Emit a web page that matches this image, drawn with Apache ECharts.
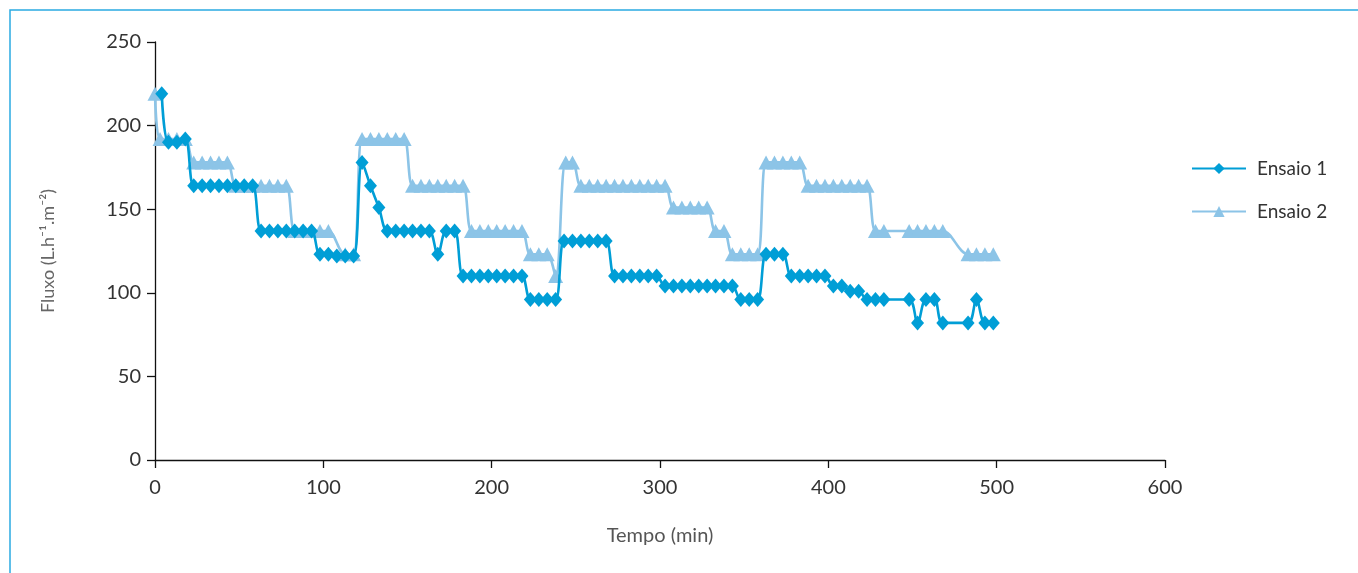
<!DOCTYPE html>
<html>
<head>
<meta charset="utf-8">
<script src="https://cdn.jsdelivr.net/npm/echarts@6/dist/echarts.min.js"></script>
<style>
  html, body { margin: 0; padding: 0; background: #fff; }
  #chart { width: 1358px; height: 573px; }
</style>
</head>
<body>
<div id="chart"></div>
<script>
// Ensaio 1 (diamantes)
var tempo1 = [4, 8, 13, 18, 23, 28, 33, 38, 43, 48, 53, 58, 63, 68, 73, 78, 83, 88, 93, 98,
  103, 108, 113, 118, 123, 128, 133, 138, 143, 148, 153, 158, 163, 168, 173, 178,
  183, 188, 193, 198, 203, 208, 213, 218, 223, 228, 233, 238, 243, 248, 253, 258,
  263, 268, 273, 278, 283, 288, 293, 298, 303, 308, 313, 318, 323, 328, 333, 338,
  343, 348, 353, 358, 363, 368, 373, 378, 383, 388, 393, 398, 403, 408, 413, 418,
  423, 428, 433, 448, 453, 458, 463, 468, 483, 488, 493, 498]
var ensaio1 = [219, 190, 190, 192, 164, 164, 164, 164, 164, 164, 164, 164, 137, 137, 137, 137, 137, 137, 137, 123,
  123, 122, 122, 122, 178, 164, 151, 137, 137, 137, 137, 137, 137, 123, 137, 137,
  110, 110, 110, 110, 110, 110, 110, 110, 96, 96, 96, 96, 131, 131, 131, 131,
  131, 131, 110, 110, 110, 110, 110, 110, 104, 104, 104, 104, 104, 104, 104, 104,
  104, 96, 96, 96, 123, 123, 123, 110, 110, 110, 110, 110, 104, 104, 101, 101,
  96, 96, 96, 96, 82, 96, 96, 82, 82, 96, 82, 82]

// Ensaio 2 (triângulos)
var tempo2 = [0, 3, 8, 13, 18, 23, 28, 33, 38, 43, 48, 53, 58, 63, 68, 73, 78, 83, 88, 93,
  98, 103, 113, 118, 123, 128, 133, 138, 143, 148, 153, 158, 163, 168, 173, 178,
  183, 188, 193, 198, 203, 208, 213, 218, 223, 228, 233, 238, 244, 248, 253, 258,
  263, 268, 273, 278, 283, 288, 293, 298, 303, 308, 313, 318, 323, 328, 333, 338,
  343, 348, 353, 358, 363, 368, 373, 378, 383, 388, 393, 398, 403, 408, 413, 418,
  423, 428, 433, 448, 453, 458, 463, 468, 483, 488, 493, 498]
var ensaio2 = [219, 192, 192, 192, 192, 178, 178, 178, 178, 178, 164, 164, 164, 164, 164, 164, 164, 137, 137, 137,
  137, 137, 123, 123, 192, 192, 192, 192, 192, 192, 164, 164, 164, 164, 164, 164,
  164, 137, 137, 137, 137, 137, 137, 137, 123, 123, 123, 110, 178, 178, 164, 164,
  164, 164, 164, 164, 164, 164, 164, 164, 164, 151, 151, 151, 151, 151, 137, 137,
  123, 123, 123, 123, 178, 178, 178, 178, 178, 164, 164, 164, 164, 164, 164, 164,
  164, 137, 137, 137, 137, 137, 137, 137, 123, 123, 123, 123]

function pairs(xs, ys) {
  return xs.map(function (x, i) { return [x, ys[i]] })
}

var fontFamily = 'Lato, "Open Sans", sans-serif'
var chart = echarts.init(document.getElementById('chart'), null, { renderer: 'canvas' })

chart.setOption({
  animation: false,
  color: ['#009ed6', '#8cc4e7'],
  graphic: [
    {
      type: 'rect',
      shape: { x: 10, y: 10, width: 1400, height: 620 },
      style: { fill: 'none', stroke: '#2aaae2', lineWidth: 1.5 },
      silent: true
    }
  ],
  grid: { left: 155, right: 193, top: 42, bottom: 113 },
  legend: {
    data: ['Ensaio 1', 'Ensaio 2'],
    orient: 'vertical',
    left: 1186,
    top: 154,
    itemWidth: 54,
    itemHeight: 14,
    itemGap: 24,
    textStyle: { fontFamily: fontFamily, fontSize: 19, color: '#333', padding: [0, 0, 0, 6] }
  },
  xAxis: {
    type: 'value',
    min: 0,
    max: 600,
    interval: 100,
    name: 'Tempo (min)',
    nameLocation: 'middle',
    nameGap: 66,
    nameTextStyle: { fontFamily: fontFamily, fontSize: 20, color: '#555' },
    axisLine: { lineStyle: { color: '#111', width: 1.3 } },
    axisTick: { show: true, length: 8, lineStyle: { color: '#111', width: 1.3 } },
    axisLabel: { fontFamily: fontFamily, fontSize: 20, color: '#333', margin: 18 },
    splitLine: { show: false }
  },
  yAxis: {
    type: 'value',
    min: 0,
    max: 250,
    interval: 50,
    name: 'Fluxo (L.h⁻¹.m⁻²)',
    nameLocation: 'middle',
    nameGap: 98,
    nameRotate: 90,
    nameTextStyle: { fontFamily: fontFamily, fontSize: 18, color: '#666' },
    axisLine: { show: true, lineStyle: { color: '#111', width: 1.3 } },
    axisTick: { show: true, length: 8, lineStyle: { color: '#111', width: 1.3 } },
    axisLabel: { fontFamily: fontFamily, fontSize: 20, color: '#333', margin: 14 },
    splitLine: { show: false }
  },
  series: [
    {
      name: 'Ensaio 1',
      type: 'line',
      z: 3,
      smooth: 0.35,
      data: pairs(tempo1, ensaio1),
      symbol: 'diamond',
      symbolSize: [13, 15],
      lineStyle: { width: 2.6 },
      itemStyle: { color: '#009ed6' }
    },
    {
      name: 'Ensaio 2',
      type: 'line',
      z: 2,
      smooth: 0.35,
      data: pairs(tempo2, ensaio2),
      symbol: 'triangle',
      symbolSize: [15, 14],
      lineStyle: { width: 2.6 },
      itemStyle: { color: '#8cc4e7' }
    }
  ]
})
</script>
</body>
</html>
